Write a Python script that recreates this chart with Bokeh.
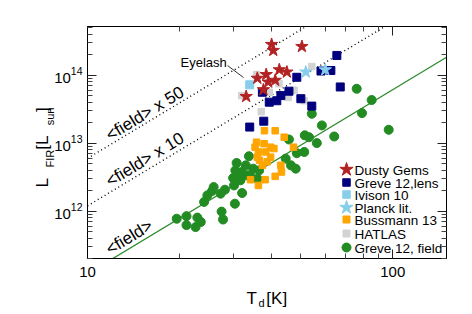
import math
from bokeh.plotting import figure
from bokeh.models import FixedTicker, LogAxis, Label, Arrow, Range1d, CustomJSTickFormatter, LogTickFormatter
from bokeh.embed import file_html
from bokeh.resources import INLINE

# ---------------- data ----------------
gems_T = [40.1, 40.6, 50.4, 33.1, 36.0, 38.5, 42.5, 45.0, 39.1, 41.2, 37.7]
gems_L = [2.83e14, 2.31e14, 2.64e14, 4.85e13, 9.0e13, 1.02e14, 1.2e14, 1.11e14, 7.9e13, 8.4e13, 6.1e13]

lens_T = [65.6, 48.5, 58.2, 62.7, 67.3, 37.4, 39.4, 41.7, 43.0, 45.7, 50.0, 54.3, 37.8, 34.0]
lens_L = [1.95e14, 9.3e13, 1.15e14, 1.17e14, 6.7e13, 5.6e13, 4.0e13, 4.2e13, 5.0e13, 5.8e13, 4.5e13, 3.5e13, 2.1e13, 1.72e13]

ivison_T = [34.0]
ivison_L = [7.2e13]

planck_T = [51.9, 60.1]
planck_L = [1.11e14, 1.2e14]

buss_T = [38.0, 41.2, 44.1, 47.3, 35.8, 35.4, 37.9, 39.8, 40.8, 36.3, 38.4, 39.8, 36.6, 38.8, 36.0, 37.4, 43.0, 43.2, 41.2, 34.2, 36.3, 38.2]
buss_L = [1.52e13, 1.52e13, 1.22e13, 8.7e12, 1.03e13, 8.7e12, 9.8e12, 8.7e12, 8.3e12, 7.4e12, 7.4e12, 6.2e12, 5.6e12, 5.3e12, 6.2e12, 4.7e12, 4.7e12, 3.75e12, 3.24e12, 2.89e12, 2.38e12, 2.89e12]

hatlas_T = [32.0, 35.8, 54.3, 42.4, 47.5, 45.4, 51.3, 37.1, 39.4]
hatlas_L = [5.0e13, 1.02e14, 1.34e14, 7.5e13, 6.0e13, 4.7e13, 4.2e13, 2.9e13, 5.6e13]

field_T = [19.6, 21.1, 21.1, 22.9, 23.5, 22.6, 24.1, 24.7, 25.9, 25.6, 27.3, 28.2, 27.5, 27.8,
           30.2, 30.4, 32.1, 30.5, 30.8, 31.0, 33.0, 33.4, 33.8, 34.2, 36.5, 36.0, 30.0, 31.7,
           32.0, 34.9, 45.7, 51.5, 53.2, 58.6, 54.3, 64.3, 56.4, 51.3, 48.5, 44.6, 46.4, 48.1,
           76.2, 85.3, 79.3, 97.0]
field_L = [7.7e11, 8.4e11, 6.2e11, 8.0e11, 6.9e11, 5.8e11, 1.36e12, 1.70e12, 2.25e12, 1.97e12, 1.80e12, 2.06e12, 9.8e11, 7.5e11,
           2.38e12, 1.28e12, 1.84e12, 3.96e12, 5.1e12, 2.99e12, 4.7e12, 3.35e12, 6.4e12, 3.16e12, 3.96e12, 2.99e12, 3.06e12, 2.83e12,
           3.75e12, 4.2e12, 1.13e13, 1.30e13, 1.22e13, 1.82e13, 2.70e13, 1.25e13, 1.0e13, 7.4e12, 7.1e12, 5.9e12, 4.7e12, 4.2e12,
           6.3e13, 4.3e13, 2.76e13, 1.57e13]

# field relation and its scaled copies
relation_T = [10, 150]
relation_L = [1.19e11, 1.83e14]
relation_factors = [1, 10, 50]
relation_labels = ["<field>", "<field> x 10", "<field> x 50"]

x_tick_values = [10, 100]
x_tick_labels = ["10", "100"]
y_tick_values = [1e12, 1e13, 1e14]

legend_names = ["Dusty Gems", "Greve 12,lens", "Ivison 10", "Planck lit.", "Bussmann 13", "HATLAS", "Greve 12, field"]

# ---------------- layout ----------------
FL, FR, FT, FB = 87, 446, 26, 258          # frame in page pixels
W, H = FR + 18, 310
XLO, XHI = 10, 150
YLO, YHI = 2.0e11, 5.2e14
FONT = "Liberation Sans"
NB = "\u00a0"

def dx(px):
    return 10 ** (math.log10(XLO) + (px - FL) / (FR - FL) * (math.log10(XHI) - math.log10(XLO)))

def dy(py):
    return 10 ** (math.log10(YHI) - (py - FT) / (FB - FT) * (math.log10(YHI) - math.log10(YLO)))

p = figure(width=W, height=H, x_axis_type="log", y_axis_type="log",
           x_range=Range1d(XLO, XHI), y_range=Range1d(YLO, YHI),
           output_backend="svg", toolbar_location=None,
           min_border_left=FL, min_border_right=W - FR, min_border_top=FT,
           min_border_bottom=H - FB)
p.grid.visible = False
p.outline_line_color = "black"
p.outline_line_width = 1
p.background_fill_color = "white"
p.border_fill_color = "white"

x_minor = [v * 10 for v in range(2, 10)]
y_minor = [m * 10 ** e for e in range(11, 15) for m in range(2, 10) if YLO <= m * 10 ** e <= YHI]

xfmt = CustomJSTickFormatter(args=dict(vals=x_tick_values, labs=x_tick_labels),
                             code="const i = vals.indexOf(tick); return i >= 0 ? labs[i] : '';")
blank = CustomJSTickFormatter(code="return '';")

def style_axis(ax):
    ax.major_tick_in = 9
    ax.major_tick_out = 0
    ax.minor_tick_in = 5
    ax.minor_tick_out = 0
    ax.major_tick_line_color = "#222222"
    ax.minor_tick_line_color = "#444444"
    ax.axis_line_color = "black"

p.xaxis.ticker = FixedTicker(ticks=x_tick_values, minor_ticks=x_minor)
p.xaxis.formatter = xfmt
p.xaxis.major_label_text_font = FONT
p.xaxis.major_label_text_font_size = "15px"
p.xaxis.major_label_text_color = "black"
p.xaxis.major_label_standoff = 8
style_axis(p.xaxis[0])

p.yaxis.ticker = FixedTicker(ticks=y_tick_values, minor_ticks=y_minor)
p.yaxis.formatter = LogTickFormatter()
p.yaxis.major_label_text_font = FONT
p.yaxis.major_label_text_font_size = "15px"
p.yaxis.major_label_text_color = "black"
p.yaxis.major_label_standoff = 5
style_axis(p.yaxis[0])

top = LogAxis(ticker=FixedTicker(ticks=x_tick_values, minor_ticks=x_minor), formatter=blank,
              major_label_text_font_size="1px", major_label_standoff=0)
right = LogAxis(ticker=FixedTicker(ticks=y_tick_values, minor_ticks=y_minor), formatter=blank,
                major_label_text_font_size="1px", major_label_standoff=0)
style_axis(top)
style_axis(right)
p.add_layout(top, "above")
p.add_layout(right, "right")

# ---------------- lines ----------------
for f in relation_factors:
    ys = [v * f for v in relation_L]
    if f == 1:
        p.line(relation_T, ys, line_color="#2e8b2e", line_width=1.3)
    else:
        p.line(relation_T, ys, line_color="black", line_width=1.4, line_dash="1 3")

# ---------------- points ----------------
p.scatter(field_T, field_L, marker="circle", size=9, fill_color="#228b22", line_color="#228b22")
p.scatter(buss_T, buss_L, marker="square", size=6.5, fill_color="#ffa500", line_color="#ffa500")
p.scatter(hatlas_T, hatlas_L, marker="square", size=6.5, fill_color="#d3d3d3", line_color="#d3d3d3")
p.scatter(lens_T, lens_L, marker="square", size=8, fill_color="#00007f", line_color="#00007f")
p.scatter(ivison_T, ivison_L, marker="square", size=8, fill_color="#87ceeb", line_color="#87ceeb")
p.scatter(planck_T, planck_L, marker="star", size=13, fill_color="#87ceeb", line_color="#87ceeb")
p.scatter(gems_T, gems_L, marker="star", size=13, fill_color="#b22222", line_color="#b22222")

# ---------------- legend (drawn by hand) ----------------
leg_markers = ["star", "square", "square", "star", "square", "square", "circle"]
leg_colors = ["#b22222", "#00007f", "#87ceeb", "#87ceeb", "#ffa500", "#d3d3d3", "#228b22"]
leg_sizes = [14, 7.5, 7.5, 14, 7, 7, 9]
leg_rows = [169, 182, 194, 207, 219, 233, 247]
for name, mk, col, sz, row in zip(legend_names, leg_markers, leg_colors, leg_sizes, leg_rows):
    p.scatter([dx(346)], [dy(row)], marker=mk, size=sz, fill_color=col, line_color=col)
    p.add_layout(Label(x=dx(354), y=dy(row + 0.5), text=name, text_font=FONT, text_font_size="13.5px",
                       text_baseline="middle", text_align="left", text_color="black"))

# ---------------- line labels ----------------
ang = 31.5
for txt, (px, py) in zip(relation_labels, [(107, 250), (107, 182), (107, 136)]):
    p.add_layout(Label(x=dx(px), y=dy(py), text=txt, angle=ang, angle_units="deg",
                       text_font=FONT, text_font_size="17px", text_baseline="alphabetic",
                       text_align="left", text_color="black"))

p.add_layout(Label(x=dx(180), y=dy(62), text="Eyelash", text_font=FONT, text_font_size="13px",
                   text_baseline="alphabetic", text_align="left", text_color="black"))
p.add_layout(Arrow(end=None, x_start=dx(227), y_start=dy(65), x_end=dx(243), y_end=dy(77),
                   line_color="black", line_width=0.8))

# ---------------- axis titles (in side panels so they are not clipped) ----------------
p.add_layout(Label(x=dx(42), y=dy(187), text="L" + NB * 6 + "[L" + NB * 5 + "]", angle=90, angle_units="deg",
                   text_font=FONT, text_font_size="17px", text_baseline="alphabetic", text_align="left",
                   text_color="black"), "left")
p.add_layout(Label(x=dx(49), y=dy(167), text="FIR" + NB * 8 + "sun", angle=90, angle_units="deg",
                   text_font=FONT, text_font_size="11px", text_baseline="alphabetic", text_align="left",
                   text_color="black"), "left")
p.add_layout(Label(x=dx(246), y=dy(298), text="T" + NB * 2 + "[K]", text_font=FONT, text_font_size="17px",
                   text_baseline="alphabetic", text_align="left", text_color="black"), "below")
p.add_layout(Label(x=dx(258), y=dy(302), text="d", text_font=FONT, text_font_size="11px",
                   text_baseline="alphabetic", text_align="left", text_color="black"), "right")

open("out.html", "w").write(file_html(p, INLINE))
